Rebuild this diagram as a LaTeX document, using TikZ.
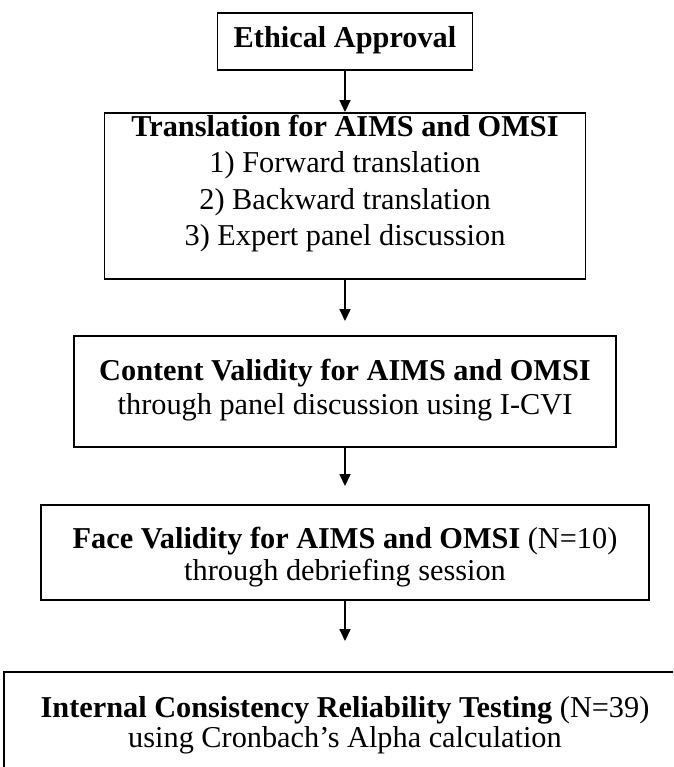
\documentclass[tikz,border=0pt]{standalone}
\usepackage{fontspec}
\setmainfont{Liberation Serif}
\usetikzlibrary{arrows.meta,positioning}

\begin{document}
\begin{tikzpicture}[x=1cm, y=1cm, >={Triangle[length=0.24cm, width=0.22cm]},
    box/.style={draw, line width=1.1pt, align=center, inner sep=0pt},
    flow/.style={->, line width=0.9pt}]

    \useasboundingbox (0,0) rectangle (13.46,-15.34);
    \clip (0,0) rectangle (13.46,-15.34);

    % --- Step 1: Ethics ---
    \node[box, minimum width=5.10cm, minimum height=1.14cm, font=\fontsize{17.25}{20}\selectfont]
        (ethics) at (6.90,-0.83) {\rule{0pt}{0.44cm}\textbf{Ethical Approval}\rule[-0.18cm]{0pt}{0.18cm}};

    % --- Step 2: Translation ---
    \node[box, minimum width=9.62cm, minimum height=3.32cm, font=\fontsize{17.25}{20.5}\selectfont]
        (transl) at (6.90,-3.92) {\rule{0pt}{0.46cm}\textbf{Translation for AIMS and OMSI}\\
        1) Forward translation\\
        2) Backward translation\\
        3) Expert panel discussion\rule[-0.66cm]{0pt}{0.66cm}};

    % --- Step 3: Content validity ---
    \node[box, minimum width=10.84cm, minimum height=2.22cm, font=\fontsize{17.25}{18.8}\selectfont]
        (content) at (6.90,-7.83) {\rule{0pt}{0.46cm}\textbf{Content Validity for AIMS and OMSI}\\
        through panel discussion using I-CVI\rule[-0.22cm]{0pt}{0.22cm}};

    % --- Step 4: Face validity ---
    \node[box, minimum width=12.16cm, minimum height=1.90cm, font=\fontsize{17.25}{18.2}\selectfont]
        (face) at (6.90,-11.05) {\rule{0pt}{0.62cm}\textbf{Face Validity for AIMS and OMSI} (N=10)\\
        through debriefing session\rule[-0.14cm]{0pt}{0.14cm}};

    % --- Step 5: Reliability ---
    \node[box, minimum width=13.64cm, minimum height=2.56cm, font=\fontsize{17.25}{17.6}\selectfont]
        (reliab) at (6.90,-14.72) {\rule{0pt}{0.44cm}\textbf{Internal Consistency Reliability Testing} (N=39)\\
        using Cronbach’s Alpha calculation\rule[-0.58cm]{0pt}{0.58cm}};

    % arrows
    \draw[flow] (ethics) -- (transl);
    \draw[flow, shorten >=0.28cm] (transl) -- (content);
    \draw[flow, shorten >=0.36cm] (content) -- (face);
    \draw[flow, shorten >=0.60cm] (face) -- (reliab);

\end{tikzpicture}
\end{document}
